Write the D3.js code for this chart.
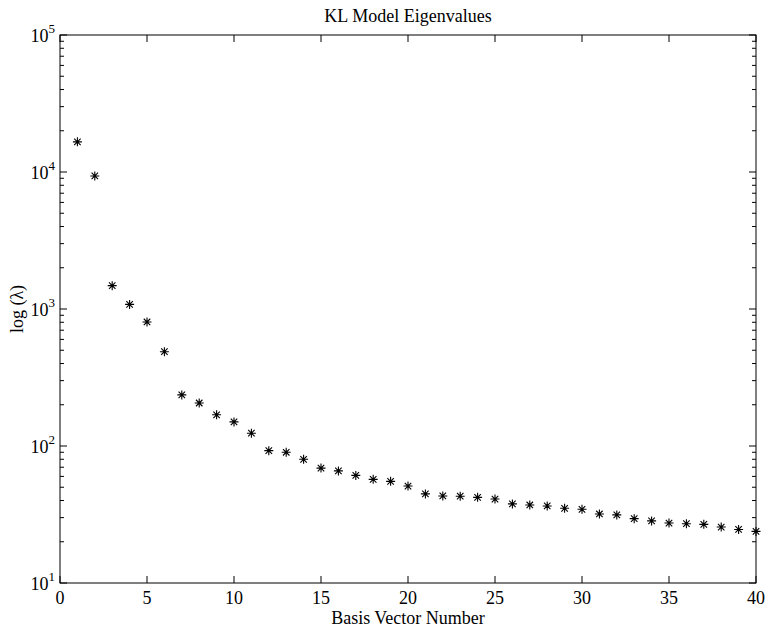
<!DOCTYPE html>
<html>
<head>
<meta charset="utf-8">
<script src="https://cdn.jsdelivr.net/npm/d3@7"></script>
<style>
  body { margin: 0; background: #fff; }
  text { font-family: "Liberation Serif", "Times New Roman", serif; fill: #000; }
</style>
</head>
<body>
<div id="chart"></div>
<script>
// eigenvalue data
const basisIndex = d3.range(1, 41);
const eigenvalues = [
    16600, 9360, 1480, 1080, 804, 488, 236, 206, 169, 150,
    124, 92.5, 90, 80, 69, 65.8, 61, 57.1, 55.2, 51,
    44.7, 43.2, 43, 42.2, 41, 37.8, 37.1, 36.5, 35.1, 34.5,
    31.9, 31.4, 29.5, 28.4, 27.4, 27.1, 26.8, 25.6, 24.6, 23.8
];
const xTicks = [0, 5, 10, 15, 20, 25, 30, 35, 40];
const yDecades = [1, 2, 3, 4, 5];

const width = 766, height = 628;
const margin = {top: 35, right: 10, bottom: 45, left: 60};
const innerW = 756 - margin.left;
const innerH = 583 - margin.top;

const svg = d3.select('#chart')
    .append('svg')
    .attr('width', width)
    .attr('height', height);

const g = svg.append('g')
    .attr('transform', `translate(${margin.left},${margin.top})`);

const x = d3.scaleLinear().domain([0, 40]).range([0, innerW]);
const y = d3.scaleLog().domain([10, 1e5]).range([innerH, 0]);

// frame
g.append('rect')
    .attr('width', innerW)
    .attr('height', innerH)
    .attr('fill', 'none')
    .attr('stroke', '#000')
    .attr('stroke-width', 1);

// x ticks, inward on top and bottom
const major = 7, minor = 4;
xTicks.forEach(t => {
    g.append('line').attr('x1', x(t)).attr('x2', x(t))
        .attr('y1', innerH).attr('y2', innerH - major).attr('stroke', '#000');
    g.append('line').attr('x1', x(t)).attr('x2', x(t))
        .attr('y1', 0).attr('y2', major).attr('stroke', '#000');
    g.append('text')
        .attr('x', x(t))
        .attr('y', innerH + 21)
        .attr('text-anchor', 'middle')
        .style('font-size', '18px')
        .text(t);
});

// y ticks (log), inward on left and right
y.ticks().forEach(t => {
    const isMajor = Math.abs(Math.log10(t) - Math.round(Math.log10(t))) < 1e-9;
    const len = isMajor ? major : minor;
    g.append('line').attr('x1', 0).attr('x2', len)
        .attr('y1', y(t)).attr('y2', y(t)).attr('stroke', '#000');
    g.append('line').attr('x1', innerW).attr('x2', innerW - len)
        .attr('y1', y(t)).attr('y2', y(t)).attr('stroke', '#000');
});

yDecades.forEach(p => {
    const lbl = g.append('text')
        .attr('x', -5)
        .attr('y', y(Math.pow(10, p)) + 7)
        .attr('text-anchor', 'end')
        .style('font-size', '18px');
    lbl.append('tspan').text('10');
    lbl.append('tspan').attr('dy', -9).style('font-size', '13px').text(p);
});

// asterisk markers
const r = 4.5, rd = r * 0.72;
const star = `M${-r},0L${r},0M0,${-r}L0,${r}M${-rd},${-rd}L${rd},${rd}M${-rd},${rd}L${rd},${-rd}`;
g.selectAll('path.pt')
    .data(eigenvalues)
    .enter()
    .append('path')
    .attr('class', 'pt')
    .attr('transform', (d, i) => `translate(${x(basisIndex[i])},${y(d)})`)
    .attr('d', star)
    .attr('fill', 'none')
    .attr('stroke', '#000')
    .attr('stroke-width', 1.1);

// title and labels
svg.append('text')
    .attr('x', margin.left + innerW / 2)
    .attr('y', 22)
    .attr('text-anchor', 'middle')
    .style('font-size', '18px')
    .text('KL Model Eigenvalues');

svg.append('text')
    .attr('x', margin.left + innerW / 2)
    .attr('y', 624)
    .attr('text-anchor', 'middle')
    .style('font-size', '18px')
    .text('Basis Vector Number');

svg.append('text')
    .attr('transform', `translate(23,${margin.top + innerH / 2}) rotate(-90)`)
    .attr('text-anchor', 'middle')
    .style('font-size', '18px')
    .text('log (λ)');
</script>
</body>
</html>
